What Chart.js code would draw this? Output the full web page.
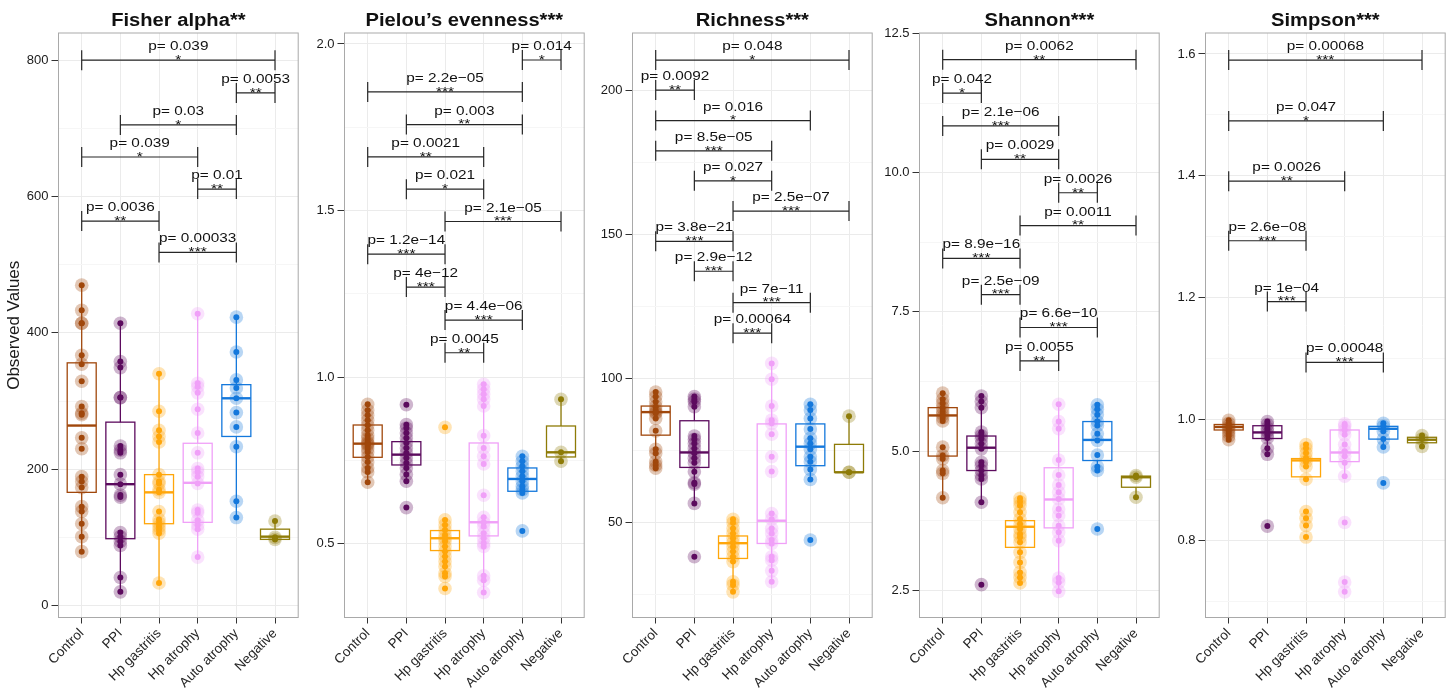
<!DOCTYPE html>
<html><head><meta charset="utf-8">
<script src="https://cdn.jsdelivr.net/npm/chart.js@4.4.1/dist/chart.umd.min.js"></script>
<style>
html,body{margin:0;padding:0;background:#fff;width:1450px;height:690px;overflow:hidden;position:relative}
canvas{position:absolute;top:0}
</style></head><body>
<script>
// ---------- data ----------
const categories = ['Control','PPI','Hp gastritis','Hp atrophy','Auto atrophy','Negative'];
const groupColors = ['#A0470B','#5C0B5E','#FFA60A','#F0A0F8','#1478DC','#8E7B07'];
const titles = ['Fisher alpha**','Pielou\u2019s evenness***','Richness***','Shannon***','Simpson***'];

// Fisher alpha
const fisherPoints = [
  [470,433,414,414,367,354,329,292,282,280,246,230,189,182,173,145,138,120,101,79],
  [414,358,349,305,305,234,228,224,192,178,162,159,107,101,94,88,41,20],
  [340,285,257,248,240,192,182,179,170,166,138,126,121,116,111,106,33],
  [428,326,321,312,288,253,224,201,196,189,179,140,136,125,118,112,71],
  [423,372,331,319,304,283,262,233,153,129],
  [124,100,97]
];
const fisherQ1  = [166,98,120,122,248,97];
const fisherMed = [264,178,166,180,304,101];
const fisherQ3  = [356,269,192,238,324,112];
const fisherLo  = [79,20,33,71,129,97];
const fisherHi  = [470,414,340,428,423,124];
const fisherTicks = [0,200,400,600,800];
const fisherMinor = [100,300,500,700];
const fisherBrackets = [
  [0,5,800,'p= 0.039','*'],[4,5,752,'p= 0.0053','**'],[1,4,705,'p= 0.03','*'],
  [0,3,658,'p= 0.039','*'],[3,4,611,'p= 0.01','**'],[0,2,564,'p= 0.0036','**'],
  [2,4,518,'p= 0.00033','***']
];

// Pielou's evenness
const pielouPoints = [
  [0.918,0.90,0.885,0.87,0.855,0.84,0.825,0.815,0.805,0.80,0.795,0.785,0.775,0.76,0.745,0.727,0.715,0.684],
  [0.917,0.857,0.847,0.832,0.817,0.802,0.787,0.772,0.757,0.742,0.727,0.707,0.687,0.608],
  [0.849,0.571,0.556,0.541,0.526,0.516,0.506,0.491,0.476,0.461,0.446,0.431,0.411,0.401,0.365],
  [0.978,0.963,0.948,0.933,0.913,0.824,0.787,0.762,0.739,0.645,0.579,0.563,0.551,0.531,0.516,0.501,0.491,0.403,0.39,0.353],
  [0.762,0.747,0.732,0.717,0.702,0.687,0.672,0.662,0.652,0.538],
  [0.933,0.774,0.747]
];
const pielouQ1  = [0.759,0.736,0.479,0.523,0.657,0.760];
const pielouMed = [0.80,0.767,0.516,0.564,0.694,0.774];
const pielouQ3  = [0.856,0.806,0.539,0.802,0.727,0.853];
const pielouLo  = [0.684,0.687,0.401,0.353,0.652,0.747];
const pielouHi  = [0.918,0.857,0.571,0.978,0.762,0.933];
const pielouTicks = [0.5,1.0,1.5,2.0];
const pielouMinor = [0.75,1.25,1.75];
const pielouBrackets = [
  [4,5,1.952,'p= 0.014','*'],[0,4,1.856,'p= 2.2e\u221205','***'],[1,4,1.758,'p= 0.003','**'],
  [0,3,1.661,'p= 0.0021','**'],[1,3,1.564,'p= 0.021','*'],[2,5,1.467,'p= 2.1e\u221205','***'],
  [0,2,1.369,'p= 1.2e\u221214','***'],[1,2,1.270,'p= 4e\u221212','***'],[2,4,1.171,'p= 4.4e\u221206','***'],
  [2,3,1.073,'p= 0.0045','**']
];

// Richness
const richnessPoints = [
  [95.4,93.8,92,90.3,89.1,88.4,88,86.2,81.9,75.5,74.1,71.2,70,68.9],
  [93.8,92.9,92,90.3,80.1,79,77.5,75.8,74.1,72.4,70.8,67.7,63.9,63.4,56.7,38.2],
  [51.2,50,48,46.3,44.6,43.1,41.7,40,38.2,36.5,29.5,28.4,26],
  [105.3,99.8,90.5,85.6,84.5,80.7,72.9,67.8,53.2,51.2,48,46.3,44,42.8,38.2,37,33.3,29.5],
  [91.1,89.1,86.2,82.5,79.3,77.5,75.5,72.9,71.2,68.5,65,44],
  [87,67.5,67.5]
];
const richnessQ1  = [80.4,69.2,37.6,42.8,69.8,67.5];
const richnessMed = [88.4,74.4,42.9,50.7,76.4,67.5];
const richnessQ3  = [90.5,85.4,45.4,84.3,84.3,77.2];
const richnessLo  = [68.9,56.7,26,29.5,65,67.5];
const richnessHi  = [95.4,93.8,51.2,105.3,91.1,87];
const richnessTicks = [50,100,150,200];
const richnessMinor = [25,75,125,175];
const richnessBrackets = [
  [0,5,210.6,'p= 0.048','*'],[0,1,200.2,'p= 0.0092','**'],[0,4,189.6,'p= 0.016','*'],
  [0,3,179.1,'p= 8.5e\u221205','***'],[1,3,168.7,'p= 0.027','*'],[2,5,158.2,'p= 2.5e\u221207','***'],
  [0,2,147.7,'p= 3.8e\u221221','***'],[1,2,137.3,'p= 2.9e\u221212','***'],[2,4,126.4,'p= 7e\u221211','***'],
  [2,3,115.8,'p= 0.00064','***']
];

// Shannon
const shannonPoints = [
  [6.04,5.93,5.86,5.78,5.72,5.66,5.60,5.54,5.07,4.92,4.86,4.65,4.60,4.16],
  [5.99,5.89,5.78,5.34,5.28,5.22,5.13,5.04,4.80,4.74,4.65,4.56,4.50,4.08,2.60],
  [4.15,4.09,4.02,3.90,3.78,3.69,3.60,3.51,3.45,3.36,3.18,3.0,2.82,2.73,2.63],
  [5.84,5.53,5.40,4.84,4.57,4.39,4.26,4.14,3.96,3.84,3.66,3.54,3.39,2.72,2.64,2.48],
  [5.83,5.75,5.65,5.53,5.46,5.31,5.19,4.93,4.72,4.65,3.60],
  [4.56,4.53,4.17]
];
const shannonQ1  = [4.91,4.65,3.27,3.62,4.83,4.35];
const shannonMed = [5.64,5.06,3.64,4.13,5.20,4.53];
const shannonQ3  = [5.78,5.27,3.75,4.70,5.53,4.55];
const shannonLo  = [4.16,4.08,2.63,2.48,4.65,4.17];
const shannonHi  = [6.04,5.99,4.15,5.84,5.83,4.56];
const shannonTicks = [2.5,5.0,7.5,10.0,12.5];
const shannonMinor = [3.75,6.25,8.75,11.25];
const shannonBrackets = [
  [0,5,12.03,'p= 0.0062','**'],[0,1,11.43,'p= 0.042','*'],[0,3,10.84,'p= 2.1e\u221206','***'],
  [1,3,10.24,'p= 0.0029','**'],[3,4,9.64,'p= 0.0026','**'],[2,5,9.05,'p= 0.0011','**'],
  [0,2,8.46,'p= 8.9e\u221216','***'],[1,2,7.81,'p= 2.5e\u221209','***'],[2,4,7.22,'p= 6.6e\u221210','***'],
  [2,3,6.62,'p= 0.0055','**']
];

// Simpson
const simpsonPoints = [
  [0.998,0.993,0.989,0.985,0.981,0.977,0.972,0.966],
  [0.996,0.991,0.985,0.980,0.974,0.969,0.952,0.942,0.824],
  [0.958,0.952,0.944,0.936,0.930,0.922,0.901,0.848,0.837,0.825,0.806],
  [0.992,0.988,0.982,0.974,0.958,0.947,0.939,0.928,0.906,0.830,0.732,0.716],
  [0.993,0.988,0.980,0.967,0.954,0.895],
  [0.973,0.967,0.955]
];
const simpsonQ1  = [0.982,0.968,0.905,0.930,0.967,0.961];
const simpsonMed = [0.987,0.978,0.932,0.945,0.984,0.966];
const simpsonQ3  = [0.991,0.989,0.935,0.982,0.988,0.970];
const simpsonLo  = [0.966,0.942,0.901,0.906,0.954,0.955];
const simpsonHi  = [0.998,0.996,0.958,0.992,0.993,0.973];
const simpsonTicks = [0.8,1.0,1.2,1.4,1.6];
const simpsonMinor = [0.7,0.9,1.1,1.3,1.5];
const simpsonBrackets = [
  [0,5,1.59,'p= 0.00068','***'],[0,4,1.49,'p= 0.047','*'],[0,3,1.391,'p= 0.0026','**'],
  [0,2,1.293,'p= 2.6e\u221208','***'],[1,2,1.193,'p= 1e\u221204','***'],[2,4,1.093,'p= 0.00048','***']
];

// ---------- panels ----------
const panels = [
  {pts:fisherPoints,q1:fisherQ1,med:fisherMed,q3:fisherQ3,lo:fisherLo,hi:fisherHi,ticks:fisherTicks,minor:fisherMinor,br:fisherBrackets,min:-17.6,max:839.9,dec:0},
  {pts:pielouPoints,q1:pielouQ1,med:pielouMed,q3:pielouQ3,lo:pielouLo,hi:pielouHi,ticks:pielouTicks,minor:pielouMinor,br:pielouBrackets,min:0.278,max:2.033,dec:1},
  {pts:richnessPoints,q1:richnessQ1,med:richnessMed,q3:richnessQ3,lo:richnessLo,hi:richnessHi,ticks:richnessTicks,minor:richnessMinor,br:richnessBrackets,min:17.1,max:220.0,dec:0},
  {pts:shannonPoints,q1:shannonQ1,med:shannonMed,q3:shannonQ3,lo:shannonLo,hi:shannonHi,ticks:shannonTicks,minor:shannonMinor,br:shannonBrackets,min:2.01,max:12.51,dec:1},
  {pts:simpsonPoints,q1:simpsonQ1,med:simpsonMed,q3:simpsonQ3,lo:simpsonLo,hi:simpsonHi,ticks:simpsonTicks,minor:simpsonMinor,br:simpsonBrackets,min:0.6738,max:1.6345,dec:1}
];

const FONT = '"Liberation Sans", Arial, Helvetica, sans-serif';
const canvasLeft = [0, 286, 574, 861, 1147];
const Y_W = 58.5, PLOT_W = 240.5, RIGHT_PAD = 6, X_H = 72.5, TOP = 33;

function hexA(hex, a){
  const n = parseInt(hex.slice(1),16);
  return `rgba(${(n>>16)&255},${(n>>8)&255},${n&255},${a})`;
}
function stretchText(ctx, str, x, y, font, sx){
  ctx.save(); ctx.translate(x,y); ctx.scale(sx,1);
  ctx.font = font; ctx.textAlign='center'; ctx.textBaseline='alphabetic';
  ctx.fillStyle='#111'; ctx.fillText(str,0,0); ctx.restore();
}

function makePlugins(p, pi){
  return [{
    id:'boxes'+pi,
    afterDatasetDraw(chart,args){
      if(args.index!==0) return;
      const xs=chart.scales.x, ys=chart.scales.y, ctx=chart.ctx;
      ctx.save();
      for(let i=0;i<categories.length;i++){
        const xc=xs.getPixelForValue(i), hw=xs.getPixelForValue(i+0.375)-xc;
        ctx.strokeStyle=groupColors[i]; ctx.lineWidth=1.3;
        const t=ys.getPixelForValue(p.q3[i]), b=ys.getPixelForValue(p.q1[i]);
        ctx.beginPath();
        ctx.moveTo(xc, ys.getPixelForValue(p.hi[i])); ctx.lineTo(xc, t);
        ctx.moveTo(xc, b); ctx.lineTo(xc, ys.getPixelForValue(p.lo[i]));
        ctx.stroke();
        ctx.strokeRect(xc-hw, t, 2*hw, b-t);
        const m=ys.getPixelForValue(p.med[i]);
        ctx.lineWidth=2.4; ctx.beginPath(); ctx.moveTo(xc-hw,m); ctx.lineTo(xc+hw,m); ctx.stroke();
      }
      ctx.restore();
    },
    afterDatasetsDraw(chart){
      const xs=chart.scales.x, ys=chart.scales.y, ctx=chart.ctx;
      ctx.save();
      ctx.strokeStyle='#262626'; ctx.lineWidth=1.2;
      p.br.forEach(([a,b,v,lab,st])=>{
        const x1=xs.getPixelForValue(a), x2=xs.getPixelForValue(b), y=ys.getPixelForValue(v);
        ctx.beginPath();
        ctx.moveTo(x1,y); ctx.lineTo(x2,y);
        ctx.moveTo(x1,y-10); ctx.lineTo(x1,y+10);
        ctx.moveTo(x2,y-10); ctx.lineTo(x2,y+10);
        ctx.stroke();
        const xm=(x1+x2)/2;
        stretchText(ctx, lab, xm, y-10, '13px '+FONT, 1.18);
        stretchText(ctx, st, xm, y+3.8, '13.5px '+FONT, 1.15);
      });
      ctx.restore();
    },
    afterDraw(chart){
      const ctx=chart.ctx, a=chart.chartArea;
      ctx.save();
      ctx.strokeStyle='#a9a9a9'; ctx.lineWidth=1;
      ctx.strokeRect(a.left, a.top, a.right-a.left, a.bottom-a.top);
      ctx.restore();
      stretchText(ctx, titles[pi], (a.left+a.right)/2, 25.5, 'bold 18px '+FONT, 1.12);
    }
  }];
}

panels.forEach((p,pi)=>{
  const cv=document.createElement('canvas');
  const W = Math.round(Y_W+PLOT_W+RIGHT_PAD);
  cv.width=W; cv.height=690;
  cv.style.width=W+'px'; cv.style.height='690px';
  cv.style.left=canvasLeft[pi]+'px';
  document.body.appendChild(cv);

  const halo=[], dots=[], cols=[], haloCols=[];
  p.pts.forEach((arr,i)=>arr.forEach(v=>{
    halo.push({x:i,y:v}); dots.push({x:i,y:v});
    cols.push(groupColors[i]); haloCols.push(hexA(groupColors[i],0.3));
  }));

  const yTickObjs = p.ticks.map(v=>({value:v})).concat(p.minor.map(v=>({value:v,isMinor:true})));

  new Chart(cv,{
    type:'scatter',
    data:{datasets:[
      {data:halo, pointRadius:6.8, pointBackgroundColor:haloCols, pointBorderWidth:0, order:2},
      {data:dots, pointRadius:3, pointBackgroundColor:cols, pointBorderWidth:0, order:1}
    ]},
    options:{
      responsive:false, animation:false, devicePixelRatio:1,
      layout:{padding:{top:TOP,right:RIGHT_PAD,left:0,bottom:0}},
      plugins:{legend:{display:false},tooltip:{enabled:false},title:{display:false}},
      events:[],
      scales:{
        x:{
          type:'linear', min:-0.6, max:5.6,
          afterBuildTicks:s=>{ s.ticks = categories.map((c,i)=>({value:i})); },
          afterFit:s=>{ s.height=X_H; s.paddingLeft=0; s.paddingRight=0; },
          ticks:{autoSkip:false, minRotation:45, maxRotation:45, padding:2,
            callback:(v)=>categories[v], color:'#262626', font:{family:FONT,size:13.5}},
          grid:{color:'#ebebeb', lineWidth:1, tickColor:'#333', tickLength:6, drawTicks:true},
          border:{display:false}
        },
        y:{
          type:'linear', min:p.min, max:p.max,
          afterBuildTicks:s=>{ s.ticks = yTickObjs.map(t=>Object.assign({},t)); },
          afterFit:s=>{ s.width=Y_W; },
          ticks:{autoSkip:false, padding:3, color:'#1a1a1a', font:{family:FONT,size:13},
            callback:function(v,idx,ticks){ const t=ticks[idx]; return (t && t.isMinor) ? '' : v.toFixed(p.dec); }},
          grid:{
            color:c=> (c.tick && c.tick.isMinor) ? '#f6f6f6' : '#ebebeb',
            tickColor:c=> (c.tick && c.tick.isMinor) ? 'rgba(0,0,0,0)' : '#333',
            tickLength:7, lineWidth:1
          },
          border:{display:false},
          title: pi===0 ? {display:true, text:'Observed Values', color:'#1a1a1a', font:{family:FONT,size:17}, padding:{top:4,bottom:0}} : {display:false}
        }
      }
    },
    plugins: makePlugins(p, pi)
  });
});
</script>
</body></html>
